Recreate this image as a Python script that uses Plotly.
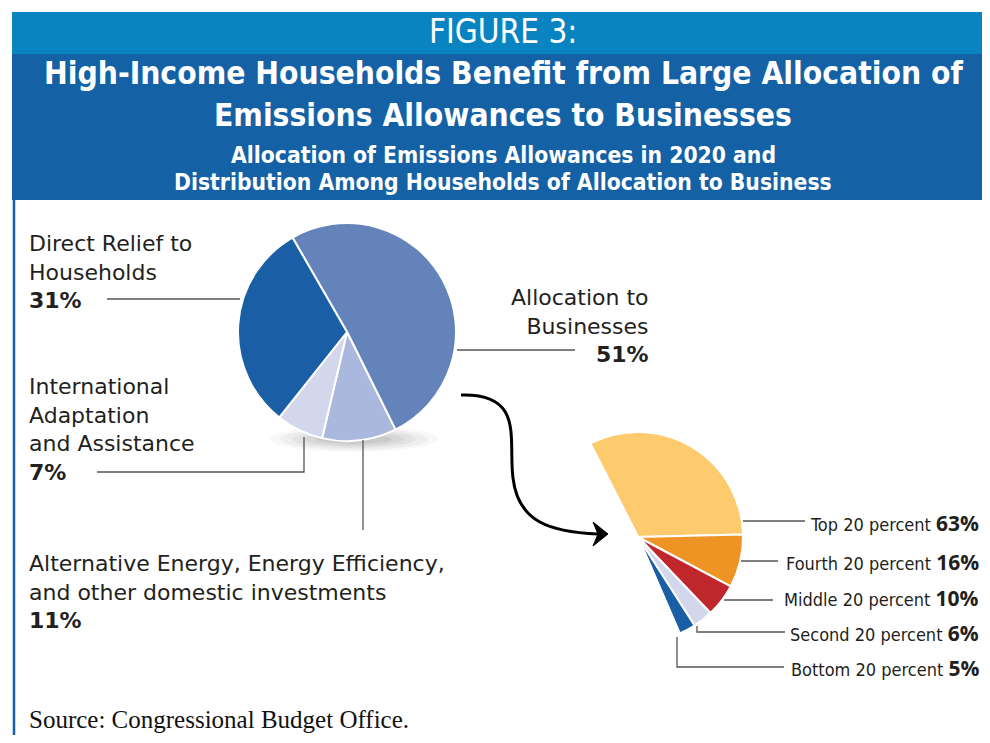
import plotly.graph_objects as go

# page body has an 8px margin; the figure is sized so the page is exactly 990x743
OFF = 8
FW, FH = 990 - 2 * OFF, 743 - 2 * OFF

# ---------------- data ----------------
alloc_labels = ["Allocation to Businesses",
                "Alternative Energy, Energy Efficiency, and other domestic investments",
                "International Adaptation and Assistance",
                "Direct Relief to Households"]
alloc_values = [51, 11, 7, 31]
alloc_colors = ["#6583bb", "#a9b8dc", "#d3d7ec", "#1a5fa5"]

quint_labels = ["Top 20 percent", "Fourth 20 percent", "Middle 20 percent",
                "Second 20 percent", "Bottom 20 percent"]
quint_values = [63, 16, 10, 6, 5]
quint_colors = ["#fdcb6e", "#ee9424", "#c0272d", "#d3d7ec", "#1a5fa5"]

# the fan shows only the business share of a full circle
business_share = alloc_values[0]
hidden_rest = sum(quint_values) * (100 - business_share) / business_share

BODY = "DejaVu Sans, Open Sans, sans-serif"
COND = "DejaVu Sans Condensed, Liberation Sans Narrow, sans-serif"
SERIF = "Liberation Serif, DejaVu Serif, serif"
DARK = "#231f20"
LINE = "#555555"


def dom(cx, cy, r):
    return dict(x=[(cx - OFF - r) / FW, (cx - OFF + r) / FW],
                y=[1 - (cy - OFF + r) / FH, 1 - (cy - OFF - r) / FH])


fig = go.Figure()

# invisible helper trace so a pixel-based axis system exists for shapes / labels
fig.add_trace(go.Scatter(x=[OFF], y=[OFF], mode="markers", marker=dict(opacity=0),
                         hoverinfo="skip", showlegend=False))

fig.add_trace(go.Pie(
    labels=alloc_labels, values=alloc_values, sort=False, direction="clockwise",
    rotation=330, textinfo="none", hoverinfo="label+percent",
    marker=dict(colors=alloc_colors, line=dict(color="white", width=2)),
    domain=dom(347, 332, 109), showlegend=False))

fig.add_trace(go.Pie(
    labels=quint_labels + [""], values=quint_values + [hidden_rest], sort=False,
    direction="clockwise", rotation=-27, textinfo="none", hoverinfo="skip",
    marker=dict(colors=quint_colors + ["rgba(0,0,0,0)"], line=dict(color="white", width=2)),
    domain=dom(638, 537, 105), showlegend=False))

shapes = []
# header bands
shapes.append(dict(type="rect", x0=12, x1=990, y0=12, y1=54, fillcolor="#0a84c1",
                   line=dict(width=0), layer="below"))
shapes.append(dict(type="rect", x0=12, x1=990, y0=54, y1=200, fillcolor="#1561a5",
                   line=dict(width=0), layer="below"))
# left border
shapes.append(dict(type="line", x0=14, x1=14, y0=200, y1=743,
                   line=dict(color="#1561a5", width=2.5)))
# soft shadow under the pie
for rx, ry, op in [(84, 13, 0.05), (74, 11, 0.07), (62, 9, 0.09), (50, 7, 0.11), (38, 5, 0.12)]:
    shapes.append(dict(type="circle", x0=354 - rx, x1=354 + rx, y0=439 - ry, y1=439 + ry,
                       fillcolor="#777777", opacity=op, line=dict(width=0), layer="below"))


def seg(pts, width=1.3, color=LINE):
    d = "M " + " L ".join(f"{x},{y}" for x, y in pts)
    shapes.append(dict(type="path", path=d, line=dict(color=color, width=width)))


# leader lines, left pie
seg([(107, 299), (240, 299)])
seg([(97, 472), (304, 472), (304, 437)])
seg([(363, 440), (363, 530)])
seg([(457, 350), (575, 350)])
# leader lines, fan
seg([(743, 521), (805, 521)])
seg([(741, 561), (778, 561)])
seg([(724, 600), (773, 600)])
seg([(697, 626), (697, 632), (785, 632)])
seg([(677, 637), (677, 667), (784, 667)])

# curved arrow
shapes.append(dict(type="path",
                   path="M 461,395 C 525,393 508,440 513,478 C 518,522 550,532 598,534",
                   line=dict(color="black", width=3)))
shapes.append(dict(type="path", path="M 608,534 L 593,522 L 598,534 L 593,546 Z",
                   fillcolor="black", line=dict(color="black", width=1)))

ann = []


def txt(x, y, s, size=22, anchor="left", family=BODY, color=DARK, yanchor="middle"):
    ann.append(dict(x=x, y=y, xref="x", yref="y", text=s, showarrow=False,
                    xanchor=anchor, yanchor=yanchor, align=anchor,
                    font=dict(size=size, family=family, color=color)))


# header texts
txt(503, 31, "FIGURE 3:", 33, "center", COND, "white")
txt(503, 73, "<b>High-Income Households Benefit from Large Allocation of</b>", 31.5, "center", COND, "white")
txt(503, 115, "<b>Emissions Allowances to Businesses</b>", 31.5, "center", COND, "white")
txt(503, 155, "<b>Allocation of Emissions Allowances in 2020 and</b>", 22.7, "center", COND, "white")
txt(503, 182, "<b>Distribution Among Households of Allocation to Business</b>", 22.7, "center", COND, "white")

# left pie labels (multi-line blocks, centred on their middle line positions)
txt(27, 272, "Direct Relief to<br>Households<br><b>31%</b>")
txt(27, 429, "International<br>Adaptation<br>and Assistance<br><b>7%</b>")
txt(27, 592, "Alternative Energy, Energy Efficiency,<br>and other domestic investments<br><b>11%</b>")
txt(651, 326, "Allocation to<br>Businesses<br><b>51%</b>", anchor="right")

# fan labels
fan_y = [523, 562, 598, 633, 668]
for lab, v, y in zip(quint_labels, quint_values, fan_y):
    txt(981, y, f"{lab} <span style='font-family:Open Sans;font-weight:bold;font-size:21px'>{v}%</span>",
        18, "right", COND)

txt(27, 719, "Source: Congressional Budget Office.", 25, "left", SERIF, "#111111")

fig.update_layout(
    width=FW, height=FH, margin=dict(l=0, r=0, t=0, b=0),
    paper_bgcolor="white", plot_bgcolor="white",
    xaxis=dict(range=[OFF, OFF + FW], visible=False, fixedrange=True, domain=[0, 1]),
    yaxis=dict(range=[OFF + FH, OFF], visible=False, fixedrange=True, domain=[0, 1]),
    shapes=shapes, annotations=ann, showlegend=False,
)

fig.write_html("out.html")
